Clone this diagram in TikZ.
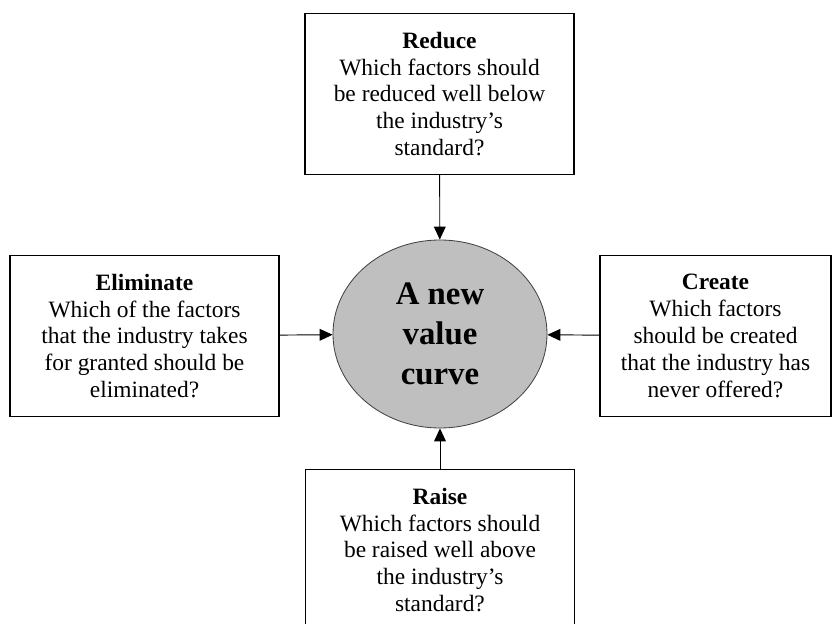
\documentclass[tikz,border=0pt]{standalone}
\usepackage{fontspec}
\setmainfont{Liberation Serif}
\usetikzlibrary{arrows.meta,shapes.geometric}
\tikzset{
  card/.style={draw,line width=0.9pt,minimum width=8.07cm,minimum height=4.82cm,
    inner sep=0pt,align=center,font=\fontsize{20}{23}\selectfont},
  core/.style={ellipse,draw=black!75,line width=0.7pt,fill=black!25,
    minimum width=6.42cm,minimum height=5.64cm,inner sep=0pt,align=center,
    font=\fontsize{28}{34}\selectfont\bfseries},
  arr/.style={line width=0.8pt,-{Triangle[length=11pt,width=10pt]}}
}
\begin{document}
\begin{tikzpicture}[x=0.03cm,y=-0.03cm]
  \clip (0,0) rectangle (832,624);
  \fill[white] (0,0) rectangle (832,624);
  \node[core] (curve) at (440,334) {A new\\ value\\ curve};
  \node[card] (reduce) at (439.5,94) {\textbf{Reduce}\\ Which factors should\\ be reduced well below\\ the industry’s\\ standard?};
  \node[card] (elim) at (144.5,336) {\textbf{Eliminate}\\ Which of the factors\\ that the industry takes\\ for granted should be\\ eliminated?};
  \node[card,minimum width=6.93cm] (create) at (715.5,336) {\textbf{Create}\\ Which factors\\ should be created\\ that the industry has\\ never offered?};
  \node[card] (raise) at (440,550) {\textbf{Raise}\\ Which factors should\\ be raised well above\\ the industry’s\\ standard?};
  \draw[arr] (reduce) -- (curve);
  \draw[arr] (elim) -- (curve);
  \draw[arr] (create) -- (curve);
  \draw[arr] (raise) -- (curve);
\end{tikzpicture}
\end{document}
